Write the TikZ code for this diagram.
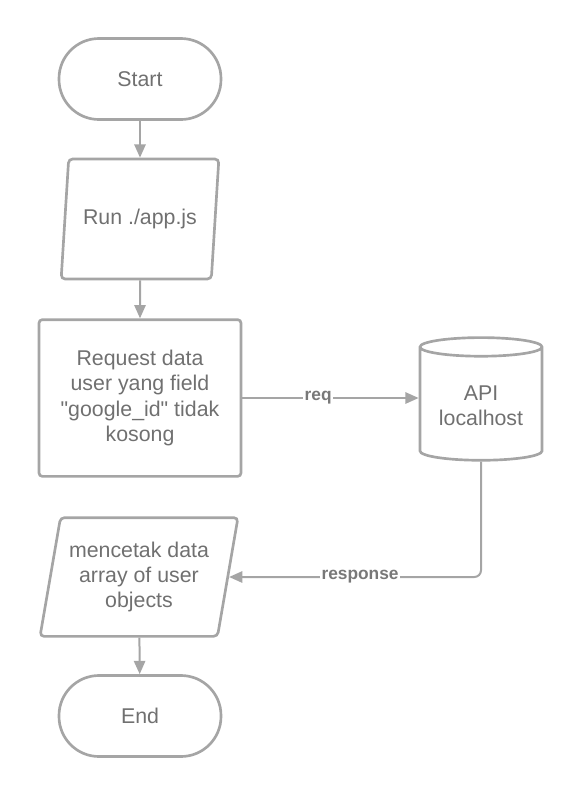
\documentclass[tikz,border=0pt]{standalone}
\usepackage{fontspec}
\setmainfont{Liberation Sans}[Ligatures=TeXOff]
\usetikzlibrary{shapes.geometric, arrows.meta, positioning}
\definecolor{linegray}{RGB}{165, 165, 165}
\definecolor{textgray}{RGB}{112, 112, 112}
\definecolor{lblgray}{RGB}{120, 120, 120}

\begin{document}
\begin{tikzpicture}[x=0.75pt, y=-0.75pt,
  term/.style={draw=linegray, line width=2pt, rounded corners=30pt, minimum width=121.5pt,
               minimum height=60.75pt, font=\fontsize{16}{19}\selectfont, text=textgray},
  io/.style={draw=linegray, line width=2pt, trapezium, trapezium left angle=76,
             trapezium right angle=104, trapezium stretches=true, rounded corners=3pt, inner sep=2pt,
             font=\fontsize{16}{19}\selectfont, text=textgray, align=center},
  procbox/.style={draw=linegray, line width=2pt, rounded corners=2.5pt, minimum width=151.5pt,
                  minimum height=117.5pt, font=\fontsize{16}{19}\selectfont, text=textgray, align=center},
  db/.style={draw=linegray, line width=2pt, cylinder, shape border rotate=90, aspect=0.2,
             minimum width=91.5pt, minimum height=92pt, font=\fontsize{16}{19}\selectfont,
             text=textgray, align=center},
  flow/.style={draw=linegray, line width=1.5pt, -{Triangle[length=10pt, width=8.5pt]}},
  lbl/.style={fill=white, inner sep=1pt, font=\fontsize{13}{15}\selectfont\bfseries, text=lblgray},
]
\useasboundingbox (0,0) rectangle (580,797);

% main column
\node[term] (start) at (140,79) {Start};
\node[io, minimum height=90pt, minimum width=118.5pt] (run) at (140,219) {Run ./app.js};
\node[procbox] (req) at (140,398) {Request data\\user yang field\\"google\_id" tidak\\kosong};
\node[io, minimum height=89pt, minimum width=148.5pt] (out) at (139,577) {mencetak data\\array of user\\objects};
\node[term] (end) at (140,716) {End};

% api
\node[db] (api) at (481,406) {API\\localhost};

% connectors
\draw[flow] (start) -- (run);
\draw[flow] (run) -- (req);
\draw[flow] (req.east) -- node[lbl, pos=0.43] {req} (req.east -| api.west);
\draw[flow, rounded corners=5pt] (api.south) |- node[lbl, pos=0.74] {response} (out.east);
\draw[flow] (out) -- (end);
\end{tikzpicture}
\end{document}
